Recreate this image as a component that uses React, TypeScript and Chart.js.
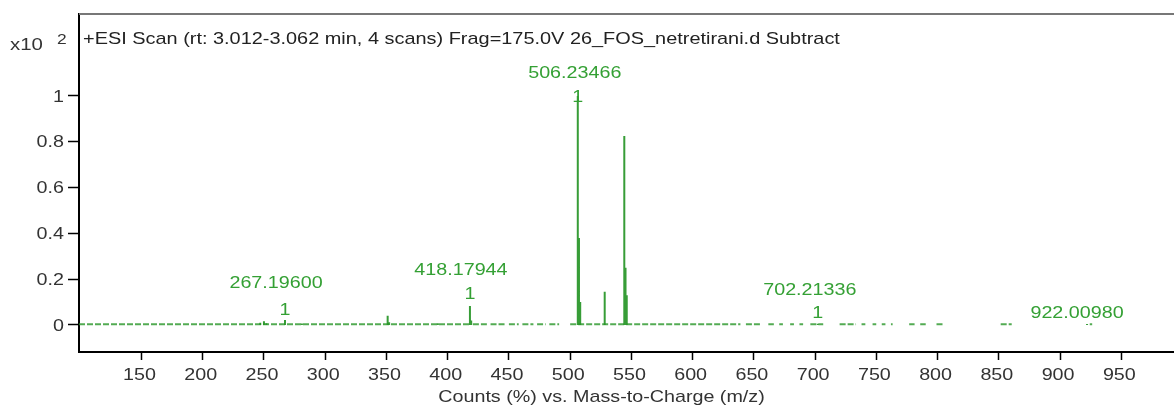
import React, { useEffect, useRef } from "react";
import { Chart, registerables } from "chart.js";

Chart.register(...registerables);

const titleText = "+ESI Scan (rt: 3.012-3.062 min, 4 scans) Frag=175.0V 26_FOS_netretirani.d Subtract";
const xAxisTitle = "Counts (%) vs. Mass-to-Charge (m/z)";
const yMultiplier = "x10";
const yExponent = "2";

const xTicks = [150, 200, 250, 300, 350, 400, 450, 500, 550, 600, 650, 700, 750, 800, 850, 900, 950];
const xTickLabels = ["150", "200", "250", "300", "350", "400", "450", "500", "550", "600", "650", "700", "750", "800", "850", "900", "950"];
const yTicks = [0, 0.2, 0.4, 0.6, 0.8, 1];
const yTickLabels = ["0", "0.2", "0.4", "0.6", "0.8", "1"];

// stick spectrum: m/z and intensity (x10^2 counts %)
const peakMz = [247, 250, 252, 267.2, 281, 351, 352.2, 392, 418.18, 419.2, 506.23, 507.2, 508.2, 528.2, 544.2, 545.2, 546.2, 702.2, 922.0];
const peakInt = [0.01, 0.016, 0.008, 0.022, 0.006, 0.04, 0.012, 0.008, 0.083, 0.02, 1.0, 0.38, 0.1, 0.145, 0.825, 0.25, 0.13, 0.005, 0.004];

// baseline noise spans (m/z start, end)
const noiseStart = [99, 420.6, 435, 450, 461, 473, 483, 500, 643.5, 661.8, 670.7, 679.6, 687.2, 696.1, 720, 737.9, 746.9, 754.4, 761.9, 776.8, 785.8, 799.1, 851.5, 924.2];
const noiseEnd = [418, 432, 447, 458, 470, 480, 491, 639, 655.7, 666.3, 673.7, 682.7, 690.2, 706.6, 733.4, 741, 749.9, 757.4, 763.3, 781.2, 790.3, 805.1, 860.5, 926.2];

// annotations
const labelMz = [267.2, 418.18, 506.23, 702.2, 922.0];
const labelText = ["267.19600", "418.17944", "506.23466", "702.21336", "922.00980"];
const labelTextY = [0.183, 0.24, 1.1, 0.153, 0.052];
const labelMarkerY = [0.066, 0.135, 0.996, 0.052, null];
const labelDx = [-9, -9, -3, -8, -10];

const X_MIN = 99;
const X_MAX = 993;
const Y_MIN = -0.118;
const Y_MAX = 1.358;

const GREEN = "#34a034";
const STICK = "rgba(20,140,20,0.85)";
const TEXT = "#333333";
const FONT = "'Liberation Sans', Arial, sans-serif";
const SX = 1.16;

function stretchedText(ctx: any, text: string, x: number, y: number, align: string, size: number, color: string, sx: number = SX) {
  ctx.save();
  ctx.translate(x, y);
  ctx.scale(sx, 1);
  ctx.font = `${size}px ${FONT}`;
  ctx.fillStyle = color;
  ctx.textAlign = align;
  ctx.textBaseline = "middle";
  ctx.fillText(text, 0, 0);
  ctx.restore();
}

const overlay = {
  id: "overlay",
  afterDatasetsDraw(chart: any) {
    const { ctx, chartArea, scales } = chart;
    const xs = scales.x;
    const ys = scales.y;
    ctx.save();
    // top border
    ctx.strokeStyle = "#777777";
    ctx.lineWidth = 2;
    ctx.beginPath();
    ctx.moveTo(chartArea.left, chartArea.top);
    ctx.lineTo(chartArea.right, chartArea.top);
    ctx.stroke();
    ctx.restore();
    // title
    stretchedText(ctx, titleText, chartArea.left + 4, 39, "left", 17, "#222", 1.171);
    // multiplier
    stretchedText(ctx, yMultiplier, 10, 45, "left", 17, TEXT, 1.2);
    stretchedText(ctx, yExponent, 57, 40, "left", 15, TEXT);
    // tick labels
    xTicks.forEach((v, i) => {
      stretchedText(ctx, xTickLabels[i], xs.getPixelForValue(v) - 2, 375, "center", 17, TEXT);
    });
    yTicks.forEach((v, i) => {
      stretchedText(ctx, yTickLabels[i], 64, ys.getPixelForValue(v) + 1, "right", 17, TEXT);
    });
    // axis title
    stretchedText(ctx, xAxisTitle, (chartArea.left + chartArea.right) / 2 - 25, 397, "center", 17, TEXT);
    // peak labels
    for (let i = 0; i < labelMz.length; i++) {
      const px = xs.getPixelForValue(labelMz[i]);
      stretchedText(ctx, labelText[i], px + labelDx[i], ys.getPixelForValue(labelTextY[i]), "center", 17, GREEN);
      const my = labelMarkerY[i];
      if (my !== null) {
        stretchedText(ctx, "1", px, ys.getPixelForValue(my), "center", 17, GREEN);
      }
    }
  },
};

export default function App() {
  const ref = useRef<HTMLCanvasElement | null>(null);
  useEffect(() => {
    if (!ref.current) return;
    const sticks: any[] = [];
    peakMz.forEach((mz, i) => {
      sticks.push({ x: mz, y: 0 }, { x: mz, y: peakInt[i] }, { x: mz, y: null });
    });
    const noise: any[] = [];
    noiseStart.forEach((s, i) => {
      noise.push({ x: s, y: 0.003 }, { x: noiseEnd[i], y: 0.003 }, { x: noiseEnd[i], y: null });
    });
    const chart = new Chart(ref.current, {
      type: "line",
      data: {
        datasets: [
          {
            data: noise,
            borderColor: "rgba(40,150,40,0.8)",
            borderWidth: 2,
            pointRadius: 0,
            spanGaps: false,
            borderDash: [6, 2],
          },
          {
            data: sticks,
            borderColor: STICK,
            borderWidth: 2,
            pointRadius: 0,
            spanGaps: false,
          },
        ],
      },
      options: {
        animation: false,
        responsive: false,
        layout: { padding: { top: 14, left: 0, right: 0, bottom: 0 } },
        plugins: { legend: { display: false }, tooltip: { enabled: false } },
        scales: {
          x: {
            type: "linear",
            min: X_MIN,
            max: X_MAX,
            border: { display: true, color: "#000", width: 2 },
            grid: { drawOnChartArea: false, drawTicks: true, tickLength: 8, tickColor: "#000", tickWidth: 1.5 },
            ticks: {
              color: "rgba(0,0,0,0)",
              font: { size: 16, family: FONT },
              padding: 5,
              maxRotation: 0,
              autoSkip: false,
            },
            afterBuildTicks: (axis: any) => {
              axis.ticks = xTicks.map((v) => ({ value: v }));
            },
            afterFit: (axis: any) => {
              axis.height = 56;
            },
          },
          y: {
            type: "linear",
            min: Y_MIN,
            max: Y_MAX,
            border: { display: true, color: "#000", width: 2 },
            grid: { drawOnChartArea: false, drawTicks: true, tickLength: 11, tickColor: "#000", tickWidth: 1.5 },
            ticks: {
              color: "rgba(0,0,0,0)",
              font: { size: 16, family: FONT },
              padding: 2,
              autoSkip: false,
            },
            afterBuildTicks: (axis: any) => {
              axis.ticks = yTicks.map((v) => ({ value: v }));
            },
            afterFit: (axis: any) => {
              axis.width = 79;
            },
          },
        },
      },
      plugins: [overlay],
    });
    return () => chart.destroy();
  }, []);
  return (
    <div style={{ position: "fixed", left: 0, top: 0, background: "#fff" }}>
      <canvas ref={ref} width={1174} height={408} style={{ display: "block" }} />
    </div>
  );
}
